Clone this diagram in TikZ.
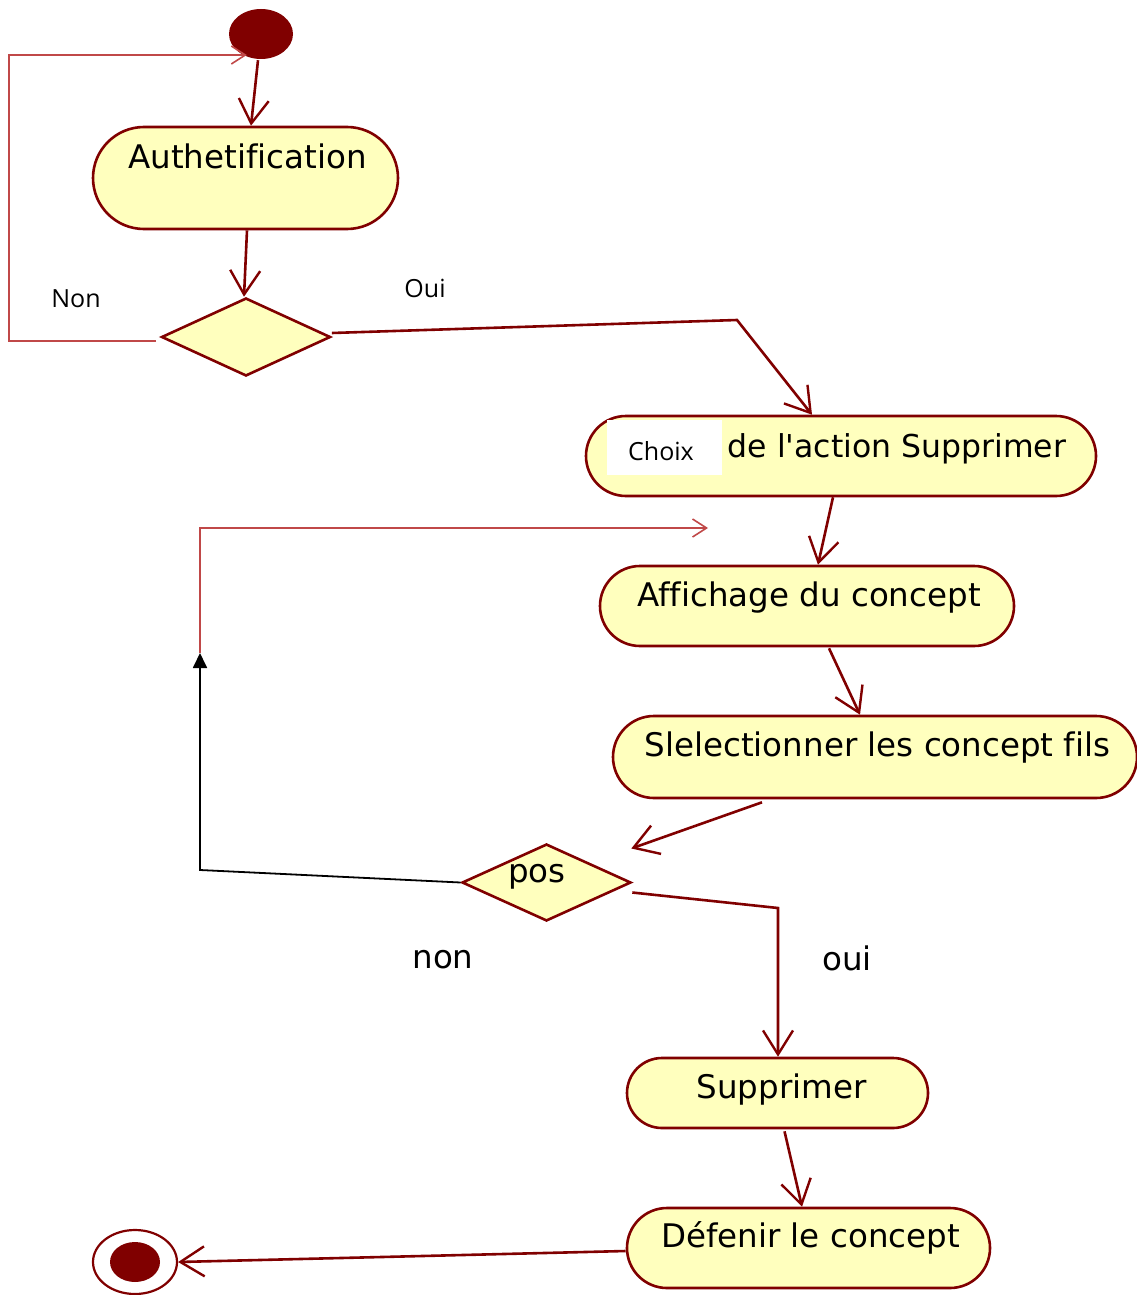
\documentclass[tikz,border=0pt]{standalone}
\usepackage{fontspec}
\newfontfamily\umlfont{DejaVu Sans}[Ligatures={NoCommon}]
\newfontfamily\labelfont{Open Sans}
\usetikzlibrary{arrows.meta,shapes.misc,shapes.geometric,calc}
\definecolor{umlred}{HTML}{800000}
\definecolor{umlfill}{HTML}{FFFFBE}
\definecolor{guardred}{HTML}{C04848}

\begin{document}
\begin{tikzpicture}[x=1pt,y=-1pt,
  action/.style={rounded rectangle, draw=umlred, fill=umlfill, line width=2.6pt, inner sep=0pt},
  decision/.style={diamond, draw=umlred, fill=umlfill, line width=2.6pt, inner sep=0pt},
  txt/.style={font=\umlfont\fontsize{32.5}{38}\selectfont, inner sep=0pt},
  small/.style={font=\labelfont\fontsize{25}{29}\selectfont, inner sep=0pt},
  flow/.style={draw=umlred, line width=2.6pt, -{Straight Barb[length=24pt,width=30pt,line width=2.4pt]}},
  guard/.style={draw=guardred, line width=1.8pt, -{Straight Barb[length=14pt,width=18pt,line width=1.6pt]}},
  back/.style={draw=black, line width=1.8pt, -{Triangle[length=15pt,width=14pt]}},
]
\useasboundingbox (0,0) rectangle (1137,1295);

% initial and final states
\node[ellipse, fill=umlred, minimum width=64pt, minimum height=50pt, inner sep=0pt] (init) at (261,34) {};
\node[ellipse, draw=umlred, fill=white, line width=2.2pt, minimum width=84pt, minimum height=64pt, inner sep=0pt] (final) at (135,1262) {};
\node[ellipse, fill=umlred, minimum width=50pt, minimum height=40pt, inner sep=0pt] at (final.center) {};

% actions
\node[action, minimum width=305pt, minimum height=102pt] (auth) at (245.5,178) {};
\node[txt] at (247.5,156) {Authetification};

\node[action, minimum width=510pt, minimum height=80pt] (choix) at (841,456) {};
\fill[white] (607,420) rectangle (722,475);
\node[small] at (661,451) {Choix};
\node[txt, font=\umlfont\fontsize{31.5}{37}\selectfont] at (897,449) {de l'action Supprimer};

\node[action, minimum width=414pt, minimum height=80pt] (aff) at (807,606) {};
\node[txt] at (809,598) {Affichage du concept};

\node[action, minimum width=524pt, minimum height=82pt] (sel) at (875,757) {};
\node[txt] at (877.5,748) {Slelectionner les concept fils};

\node[action, minimum width=301pt, minimum height=70pt] (supp) at (777.5,1093) {};
\node[txt] at (781.5,1089.5) {Supprimer};

\node[action, minimum width=363pt, minimum height=80pt] (def) at (808.5,1248) {};
\node[txt] at (810.5,1238) {Défenir le concept};

% decisions
\node[decision, minimum width=169pt, minimum height=78pt] (dec1) at (246,337) {};
\node[decision, minimum width=169pt, minimum height=77pt] (pos) at (546.5,882.5) {};
\node[txt] at (537,877) {pos};

% guard labels
\node[small] at (76,298.5) {Non};
\node[small] at (425,288) {Oui};
\node[txt] at (443,960) {non};
\node[txt] at (847,958) {oui};

% transitions
\draw[flow] ($(init.south)+(-3,1)$) -- ($(auth.north)+(5.5,0)$);
\draw[flow] ($(auth.south)+(1.5,0)$) -- ($(dec1.north)+(-2,0)$);
\draw[guard] ($(dec1.west)+(-4,4)$) -- ++(-147,0) |- ($(init.west)+(18,21)$);
\draw[flow] ($(dec1.east)+(0,-4)$) -- (737,320) -- ($(choix.north)+(-29,0)$);
\draw[flow] ($(choix.south)+(-8,0)$) -- ($(aff.north)+(11,0)$);
\draw[flow] ($(aff.south)+(22,1)$) -- ($(sel.north)+(-15,0)$);
\draw[flow] ($(sel.south)+(-113,3)$) -- ($(pos.east)+(-1,-34)$);

\coordinate (loopturn) at (200,653);
\coordinate (loopend) at (708,528);
\draw[back] (pos.west) -- (200,870) -- (loopturn);
\draw[guard] (loopturn) |- (loopend);

\draw[flow] ($(pos.east)+(0,10)$) -- (778,908) -- ($(supp.north)+(0.5,0)$);
\draw[flow] ($(supp.south)+(7,2)$) -- ($(def.north)+(-6.5,0)$);
\draw[flow] ($(def.west)+(0,3)$) -- (final.east);
\end{tikzpicture}
\end{document}
